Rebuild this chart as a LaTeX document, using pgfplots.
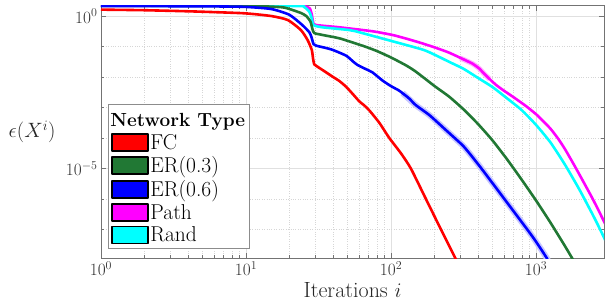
\documentclass[border=0pt]{standalone}
\usepackage{pgfplots}
\usepackage{pgfplotstable}
\pgfplotsset{compat=1.18}
\definecolor{ergreen}{RGB}{33,120,52}
\definecolor{pred}{RGB}{255,0,0}
\definecolor{pblue}{RGB}{0,0,255}
\definecolor{pmag}{RGB}{255,0,255}
\definecolor{pcyan}{RGB}{0,255,255}

\pgfplotstableread{
i e
1 1.62
2 1.55
4.4 1.41
9.7 1.23
14.9 1.0
19.4 0.741
23.9 0.347
26.6 0.162
28.4 0.0776
29.0 0.0398
29.5 0.0263
30.4 0.0234
35 0.0151
39.6 0.0102
44 7.41e-3
49 4.79e-3
55 2.63e-3
60.5 1.58e-3
65 1.2e-3
71 7.94e-4
83 3.16e-4
97.3 1e-4
117 3.16e-5
137 1e-5
174 1e-6
221 1e-7
277 1.17e-8
290 6.3e-9
}\fcdata

\pgfplotstableread{
i e
1 2.17
9.7 2.15
17.4 1.95
19.9 1.70
23.9 1.26
26 1.0
27.8 0.661
28.8 0.355
29.6 0.275
33.6 0.240
44 0.186
57 0.126
67 0.0977
80 0.0708
100 0.0437
127 0.024
148 0.0151
200 5.01e-3
251 2.29e-3
316 8.71e-4
398 2.88e-4
501 8.32e-5
631 2.0e-5
794 4.37e-6
1000 8.91e-7
1259 1.66e-7
1585 2.82e-8
1778 1.12e-8
1900 6.3e-9
}\erthreedata

\pgfplotstableread{
i e
1 2.13
5 2.08
9.7 2.0
14.9 1.70
19.9 1.10
24.5 0.501
27.5 0.282
28.5 0.178
29.2 0.120
30.4 0.107
35 0.0912
39.6 0.0776
49 0.0501
55 0.0316
59 0.0245
67 0.0182
74.6 0.0141
87.6 7.59e-3
100 5.01e-3
114 3.55e-3
133 2.0e-3
148 1.2e-3
184 5.62e-4
239 1.82e-4
310 5.89e-5
347 3.16e-5
420 1e-5
605 1e-6
870 1e-7
1000 3.98e-8
1183 1.17e-8
1260 6e-9
}\ersixdata

\pgfplotstableread{
i e
120 3.0e-3
148 1.2e-3
184 5.62e-4
239 1.82e-4
310 5.89e-5
347 3.16e-5
420 1e-5
605 1e-6
870 1e-7
1000 3.98e-8
1183 1.17e-8
1260 6e-9
}\ersixband

\pgfplotstableread{
i e
1 2.19
20 2.19
25 2.14
27.5 1.78
28.4 1.12
29.2 0.562
31 0.501
44 0.427
74.6 0.316
102 0.240
127 0.182
160 0.132
203 0.0912
251 0.0631
316 0.0380
364 0.0275
405 0.0191
440 0.0126
479 8.51e-3
530 5.50e-3
589 3.80e-3
708 2.09e-3
851 1.12e-3
1000 6.03e-4
1122 3.55e-4
1259 2.0e-4
1409 1.0e-4
1585 4.27e-5
1888 1.0e-5
2460 1.0e-6
2951 1.78e-7
3162 8.91e-8
}\pathdata

\pgfplotstableread{
i e
1 2.19
20.4 2.14
25 2.0
27.3 1.38
28.3 0.891
29.0 0.525
30.4 0.468
33.6 0.427
51.5 0.347
57 0.316
97.6 0.158
165 0.0794
200 0.0537
251 0.0316
316 0.0186
398 9.33e-3
501 4.68e-3
631 2.0e-3
794 8.32e-4
1000 2.69e-4
1259 7.08e-5
1585 1.32e-5
1995 2.0e-6
2512 2.51e-7
2818 8.32e-8
3162 2.63e-8
}\randdata

\begin{document}
\begin{tikzpicture}
\path[use as bounding box] (-101pt,-46.7pt) rectangle (504pt,258.3pt);
\begin{axis}[
  at={(0pt,0pt)}, anchor=south west,
  scale only axis, width=503pt, height=252.6pt,
  xmode=log, ymode=log,
  xmin=1, xmax=2940, ymin=1.14e-8, ymax=2.18,
  xtick={1,10,100,1000},
  ytick={1e-5,1},
  minor ytick={1e-8,1e-7,1e-6,1e-4,1e-3,1e-2,1e-1},
  grid=both,
  major grid style={black!12, line width=0.6pt},
  minor grid style={black!16, dotted, line width=0.6pt},
  axis line style={black!55, line width=0.7pt},
  tick style={black!55, line width=0.6pt},
  major tick length=5pt, minor tick length=3pt,
  tick label style={font=\fontsize{16.5}{18}\selectfont, text=black!80},
  label style={font=\fontsize{22}{24}\selectfont, text=black!85},
  xlabel={Iterations $i$},
  ylabel={$\epsilon(X^i)$},
  ylabel style={rotate=-90, at={(axis description cs:-0.137,0.5)}, anchor=center},
  legend style={at={(axis description cs:0.014,0.04)}, anchor=south west,
    draw=black!45, line width=0.7pt, fill=white,
    font=\fontsize{21.5}{22}\selectfont, row sep=3.2pt, inner sep=3pt,
    nodes={inner sep=1.5pt}},
  legend cell align=left,
  every axis plot/.append style={smooth, tension=0.35, line join=round},
]
\addplot[blue!22, line width=6pt, forget plot] table[x=i,y=e] {\ersixband};
\addplot[pmag!30, line width=5pt, forget plot] table[x=i,y=e] {
i e
300 0.0420
364 0.0275
405 0.0191
440 0.0126
479 8.51e-3
};
\addplot[pmag, line width=2.6pt, forget plot] table[x=i,y=e] {\pathdata};
\addplot[pcyan, line width=2.6pt, forget plot] table[x=i,y=e] {\randdata};
\addplot[ergreen, line width=2.6pt, forget plot] table[x=i,y=e] {\erthreedata};
\addplot[pblue, line width=2.6pt, forget plot] table[x=i,y=e] {\ersixdata};
\addplot[pred, line width=2.6pt, forget plot] table[x=i,y=e] {\fcdata};

\addlegendimage{empty legend}
\addlegendentry{\hspace{-40pt}\raisebox{0pt}[17pt][4pt]{\fontsize{19}{20}\selectfont\textbf{Network Type}}}
\addlegendimage{legend image code/.code={\draw[fill=pred,draw=black,line width=1.6pt] (0pt,-8.5pt) rectangle (36pt,8.5pt);}}
\addlegendentry{FC}
\addlegendimage{legend image code/.code={\draw[fill=ergreen,draw=black,line width=1.6pt] (0pt,-8.5pt) rectangle (36pt,8.5pt);}}
\addlegendentry{ER(0.3)}
\addlegendimage{legend image code/.code={\draw[fill=pblue,draw=black,line width=1.6pt] (0pt,-8.5pt) rectangle (36pt,8.5pt);}}
\addlegendentry{ER(0.6)}
\addlegendimage{legend image code/.code={\draw[fill=pmag,draw=black,line width=1.6pt] (0pt,-8.5pt) rectangle (36pt,8.5pt);}}
\addlegendentry{Path}
\addlegendimage{legend image code/.code={\draw[fill=pcyan,draw=black,line width=1.6pt] (0pt,-8.5pt) rectangle (36pt,8.5pt);}}
\addlegendentry{Rand}
\end{axis}
\end{tikzpicture}
\end{document}
